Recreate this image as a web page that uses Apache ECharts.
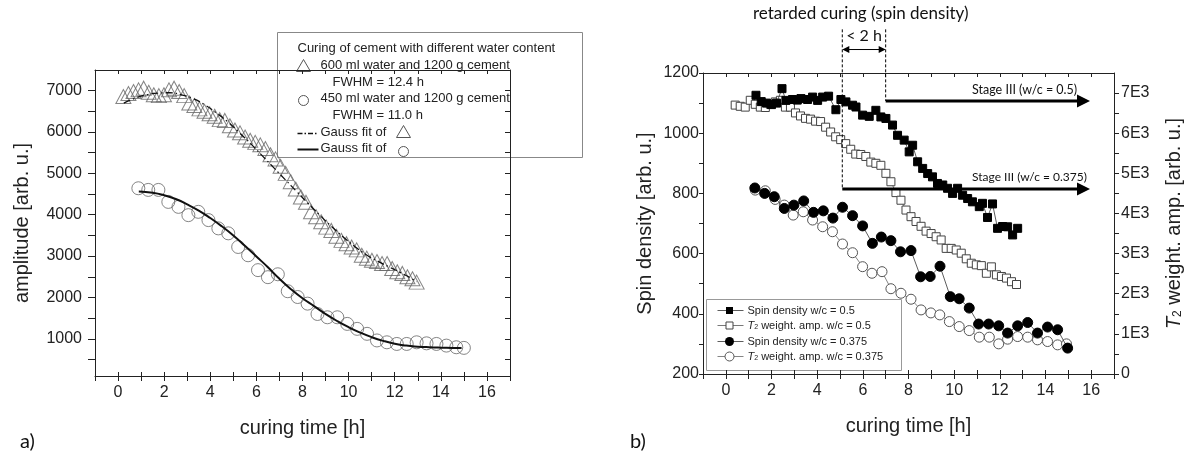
<!DOCTYPE html>
<html><head><meta charset="utf-8">
<script src="https://cdn.jsdelivr.net/npm/echarts@6/dist/echarts.min.js"></script>
<style>html,body{margin:0;padding:0;background:#fff}#c{width:1196px;height:465px}</style>
</head><body><div id="c"></div>
<script>
// ---------- Panel a) ----------
const triT = [0.23,0.45,0.67,0.89,1.11,1.33,1.55,1.77,1.99,2.21,2.43,2.65,2.87,3.09,3.31,3.53,3.75,3.97,4.19,4.41,4.63,4.85,5.07,5.29,5.51,5.73,5.95,6.17,6.39,6.61,6.83,7.05,7.27,7.49,7.71,7.93,8.15,8.37,8.59,8.81,9.03,9.25,9.47,9.69,9.91,10.13,10.35,10.57,10.79,11.01,11.23,11.45,11.67,11.89,12.11,12.33,12.55,12.77,12.95];
const triV = [6860,6930,6980,7020,7060,6960,6900,6880,6900,7020,7060,6980,6880,6700,6640,6560,6500,6440,6380,6300,6280,6150,6050,5980,5880,5800,5750,5690,5600,5450,5350,5170,5000,4800,4620,4430,4300,4070,3950,3830,3700,3620,3480,3380,3300,3220,3150,3020,2950,2900,2870,2820,2820,2700,2620,2580,2500,2450,2370];
const cirT = [0.88,1.31,1.75,2.18,2.62,3.05,3.48,3.92,4.35,4.78,5.21,5.64,6.07,6.5,6.93,7.36,7.79,8.22,8.65,9.08,9.51,9.94,10.37,10.8,11.23,11.66,12.09,12.52,12.95,13.38,13.81,14.24,14.67,15.0];
const cirV = [4640,4600,4600,4310,4190,3990,4070,3870,3670,3550,3220,3020,2660,2490,2560,2150,2010,1850,1600,1520,1520,1360,1240,1120,960,915,875,875,915,890,875,835,795,780];
const fitTriT = [0.25,0.75,1.25,1.75,2.25,2.75,3.25,3.75,4.25,4.75,5.25,5.75,6.25,6.75,7.25,7.75,8.25,8.75,9.25,9.75,10.25,10.75,11.25,11.75,12.25,12.75,12.95];
const fitTriV = [6700,6820,6900,6940,6950,6900,6810,6660,6470,6250,5990,5720,5430,5140,4850,4560,4270,3990,3720,3470,3240,3040,2880,2740,2600,2450,2380];
const fitCirT = [0.9,1.5,2,2.5,3,3.5,4,4.5,5,5.5,6,6.5,7,7.5,8,8.5,9,9.5,10,10.5,11,11.5,12,12.5,13,13.5,14,14.5,14.9];
const fitCirV = [4560,4530,4470,4380,4250,4100,3920,3720,3500,3250,2990,2730,2450,2200,1980,1790,1600,1430,1280,1150,1040,950,880,835,810,795,785,778,775];

// ---------- Panel b) ----------
const sdHiT = [1.32,1.55,1.78,2.0,2.22,2.46,2.63,2.92,3.13,3.29,3.58,3.8,4.02,4.24,4.5,4.82,5.04,5.26,5.55,5.7,5.99,6.28,6.57,6.79,7.01,7.3,7.52,7.81,8.03,8.18,8.4,8.62,8.84,9.05,9.27,9.5,9.71,9.93,10.15,10.37,10.59,10.8,11.1,11.24,11.46,11.68,11.9,12.12,12.34,12.56,12.78];
const sdHiV = [1126,1105,1100,1095,1100,1148,1109,1112,1110,1115,1112,1120,1109,1120,1123,1078,1112,1104,1093,1087,1060,1056,1076,1054,1049,1027,993,977,938,960,905,883,866,855,833,828,817,800,817,794,783,772,756,767,720,765,684,690,689,662,684];
const t2HiT = [0.41,0.63,0.85,1.07,1.29,1.51,1.73,1.95,2.17,2.39,2.61,2.83,3.05,3.27,3.49,3.71,3.93,4.15,4.37,4.59,4.81,5.03,5.25,5.47,5.69,5.91,6.13,6.35,6.57,6.79,7.01,7.23,7.45,7.67,7.89,8.11,8.33,8.55,8.77,8.99,9.21,9.43,9.65,9.87,10.09,10.31,10.53,10.75,10.97,11.19,11.41,11.63,11.85,12.07,12.29,12.51,12.73];
const t2HiV = [6700,6670,6650,6820,6720,6650,6640,6720,6780,6820,6650,6650,6505,6430,6370,6350,6300,6290,6150,6030,5910,5840,5740,5600,5480,5470,5420,5280,5250,5200,5000,4790,4520,4330,4085,3920,3800,3680,3560,3500,3420,3340,3130,3130,3090,3010,2870,2760,2720,2700,2510,2670,2470,2430,2390,2300,2230];
const sdLoT = [1.27,1.7,2.12,2.56,2.98,3.41,3.84,4.27,4.69,5.11,5.55,5.99,6.42,6.81,7.23,7.65,8.11,8.53,8.95,9.38,9.83,10.22,10.66,11.07,11.51,11.95,12.34,12.78,13.22,13.65,14.09,14.53,14.97];
const sdLoV = [818,800,789,750,761,775,737,742,718,754,726,692,634,655,643,606,610,523,524,558,457,450,419,366,366,360,336,360,371,336,356,347,286];
const t2LoT = [1.29,1.73,2.16,2.56,2.95,3.39,3.8,4.24,4.67,5.11,5.55,5.99,6.4,6.84,7.23,7.67,8.11,8.55,8.98,9.37,9.79,10.22,10.66,11.1,11.54,11.95,12.34,12.78,13.22,13.65,14.09,14.53,14.92];
const t2LoV = [4582,4565,4350,4209,3960,4042,3836,3669,3545,3239,3022,2674,2510,2550,2125,2012,1863,1597,1522,1473,1306,1182,1082,918,918,751,868,933,918,851,809,726,751];

// annotation geometry in data units (curing time, spin density)
const retardStart = 5.1, retardEnd = 7.0;
const stageHiLevel = 1107, stageLoLevel = 815, stageArrowEnd = 15.95;
const dashTop = 1345, twoHLevel = 1278;
// [t1, v1, t2, v2, kind]  kind 0 = dashed guide, 1 = double arrow, 2 = thick arrow
const annotations = [
  [retardStart, dashTop, retardStart, stageLoLevel, 0],
  [retardEnd, dashTop, retardEnd, stageHiLevel, 0],
  [retardStart, twoHLevel, retardEnd, twoHLevel, 1],
  [retardEnd, stageHiLevel, stageArrowEnd, stageHiLevel, 2],
  [retardStart, stageLoLevel, stageArrowEnd, stageLoLevel, 2]
];

const yTicksA = [500,1000,1500,2000,2500,3000,3500,4000,4500,5000,5500,6000,6500,7000];
const yLabelsA = [1000,2000,3000,4000,5000,6000,7000];
const yTicksB = [200,300,400,500,600,700,800,900,1000,1100,1200];
const yLabelsB = [200,400,600,800,1000,1200];
const yTicksB2 = [0,500,1000,1500,2000,2500,3000,3500,4000,4500,5000,5500,6000,6500,7000];
const yLabelsB2 = [0,1000,2000,3000,4000,5000,6000,7000];

const zip = (a,b)=>a.map((v,i)=>[v,b[i]]);
const FONT = 'Liberation Sans, Arial, sans-serif';
const CAL = 'Lato, sans-serif';
const AX = '#222';

function xAx(grid, pos, labels, tickOnly) {
  return {
    type:'value', gridIndex:grid, position:pos, min:-1, max:17, interval:1,
    axisLine:{show:!tickOnly, onZero:false, lineStyle:{color:AX, width:1}},
    axisTick:{show:true, inside: !labels, length:labels?5:4, lineStyle:{color:AX}},
    axisLabel:{show:labels, fontSize:16, fontFamily:FONT, color:AX, margin:9,
      formatter:v=> (Math.round(v)%2===0 ? String(v) : '')},
    splitLine:{show:false},
    name: labels ? 'curing time [h]' : '', nameLocation:'middle', nameGap:42,
    nameTextStyle:{fontSize:20, fontFamily:FONT, color:AX}
  };
}
function yAx(grid, pos, min, max, ticks, labels, showLabels, o) {
  o = o || {};
  return {
    type:'value', gridIndex:grid, position:pos, min:min, max:max,
    axisLine:{show:true, onZero:false, lineStyle:{color:AX, width:1}},
    axisTick:{show:true, inside: !showLabels, length:o.tick||5, customValues:ticks, lineStyle:{color:AX}},
    axisLabel:{show:showLabels, customValues:labels, fontSize:16, fontFamily:FONT, color:AX, margin:o.margin||8,
      formatter: o.fmt || (v=>String(v))},
    splitLine:{show:false},
    name:o.name||'', nameLocation:'middle', nameGap:o.gap||0,
    nameTextStyle:{fontSize:20, fontFamily:FONT, color:AX, rich:o.rich||{}}
  };
}

function head(tip, from, L, W) {
  const dx = tip[0]-from[0], dy = tip[1]-from[1];
  const n = Math.sqrt(dx*dx+dy*dy) || 1;
  const ux = dx/n, uy = dy/n;
  const bx = tip[0]-ux*L, by = tip[1]-uy*L;
  return {type:'polygon', shape:{points:[[tip[0],tip[1]],[bx-uy*W,by+ux*W],[bx+uy*W,by-ux*W]]}, style:{fill:'#000'}};
}
function renderAnno(params, api) {
  const p1 = api.coord([api.value(0), api.value(1)]);
  const p2 = api.coord([api.value(2), api.value(3)]);
  const kind = api.value(4);
  const ch = [];
  if (kind === 0) {
    ch.push({type:'line', shape:{x1:p1[0],y1:p1[1],x2:p2[0],y2:p2[1]}, style:{stroke:'#000', lineWidth:1, lineDash:[3,2]}});
  } else if (kind === 1) {
    ch.push({type:'line', shape:{x1:p1[0]+6,y1:p1[1],x2:p2[0]-6,y2:p2[1]}, style:{stroke:'#000', lineWidth:1}});
    ch.push(head(p1, p2, 7, 3.5));
    ch.push(head(p2, p1, 7, 3.5));
  } else {
    ch.push({type:'line', shape:{x1:p1[0],y1:p1[1],x2:p2[0]-10,y2:p2[1]}, style:{stroke:'#000', lineWidth:3}});
    ch.push(head(p2, p1, 13, 6.5));
  }
  return {type:'group', children:ch};
}

const chart = echarts.init(document.getElementById('c'), null, {renderer:'canvas'});
const option = {
  animation:false,
  backgroundColor:'#fff',
  grid:[
    {left:95, top:70, width:415, height:306},
    {left:703, top:73, width:411, height:301}
  ],
  xAxis:[ xAx(0,'bottom',true), xAx(0,'top',false), xAx(1,'bottom',true), xAx(1,'top',false),
          xAx(0,'bottom',false,true), xAx(1,'bottom',false,true) ],
  yAxis:[
    yAx(0,'left',100,7500,yTicksA,yLabelsA,true,{name:'amplitude [arb. u.]', gap:63, margin:13, tick:7}),
    yAx(0,'right',100,7500,yTicksA,yLabelsA,false),
    yAx(1,'left',200,1200,yTicksB,yLabelsB,true,{name:'Spin density [arb. u.]', gap:48, margin:4, tick:4}),
    yAx(1,'right',0,7500,yTicksB2,yLabelsB2,true,{fmt:v=>v===0?'0':(v/1000)+'E3',
        name:'{i|T}{s|2} weight. amp. [arb. u.]', gap:50, margin:7,
        rich:{i:{fontStyle:'italic',fontSize:20,fontFamily:FONT,color:AX},
              s:{fontSize:12,fontFamily:FONT,color:AX,verticalAlign:'bottom'}}})
  ],
  series:[
    {type:'line', xAxisIndex:0, yAxisIndex:0, data:zip(fitTriT,fitTriV), smooth:true, showSymbol:false,
     lineStyle:{color:'#111', width:1.3, type:[7,3,1.5,3]}, z:3},
    {type:'line', xAxisIndex:0, yAxisIndex:0, data:zip(fitCirT,fitCirV), smooth:true, showSymbol:false,
     lineStyle:{color:'#111', width:2}, z:3},
    {type:'scatter', xAxisIndex:0, yAxisIndex:0, data:zip(triT,triV), symbol:'triangle', symbolSize:[15,14],
     itemStyle:{color:'rgba(255,255,255,0)', borderColor:'#666', borderWidth:1}, z:2},
    {type:'scatter', xAxisIndex:0, yAxisIndex:0, data:zip(cirT,cirV), symbol:'circle', symbolSize:13,
     itemStyle:{color:'rgba(255,255,255,0)', borderColor:'#666', borderWidth:1}, z:2},

    {type:'line', xAxisIndex:2, yAxisIndex:3, data:zip(t2HiT,t2HiV), symbol:'rect', symbolSize:8,
     lineStyle:{color:'#555', width:0.8}, itemStyle:{color:'#fff', borderColor:'#444', borderWidth:1}, z:2},
    {type:'line', xAxisIndex:2, yAxisIndex:3, data:zip(t2LoT,t2LoV), symbol:'circle', symbolSize:10,
     lineStyle:{color:'#666', width:0.8}, itemStyle:{color:'#fff', borderColor:'#555', borderWidth:1}, z:2},
    {type:'line', xAxisIndex:2, yAxisIndex:2, data:zip(sdHiT,sdHiV), symbol:'rect', symbolSize:8,
     lineStyle:{color:'#333', width:0.8}, itemStyle:{color:'#000', borderColor:'#000'}, z:3},
    {type:'line', xAxisIndex:2, yAxisIndex:2, data:zip(sdLoT,sdLoV), symbol:'circle', symbolSize:10,
     lineStyle:{color:'#333', width:0.8}, itemStyle:{color:'#000', borderColor:'#000'}, z:3},

    {type:'custom', coordinateSystem:'cartesian2d', xAxisIndex:2, yAxisIndex:2, clip:false, silent:true, z:5,
     encode:{x:[0,2], y:[1,3]}, data:annotations, renderItem:renderAnno}
  ],
  graphic:[
    // legend a
    {type:'group', left:277, top:32, children:[
      {type:'rect', shape:{x:0,y:0,width:305,height:125}, style:{fill:'#fff', stroke:'#888', lineWidth:1}},
      {type:'text', x:20, y:16, style:{text:'Curing of cement with different water content', font:'13px '+FONT, fill:'#222', verticalAlign:'middle'}},
      {type:'polygon', shape:{points:[[26,27],[33,39],[19,39]]}, style:{fill:'none', stroke:'#555', lineWidth:1}},
      {type:'text', x:43, y:33, style:{text:'600 ml water and 1200 g cement', font:'13px '+FONT, fill:'#222', verticalAlign:'middle'}},
      {type:'text', x:55, y:50, style:{text:'FWHM = 12.4 h', font:'13px '+FONT, fill:'#222', verticalAlign:'middle'}},
      {type:'circle', shape:{cx:26, cy:68, r:5}, style:{fill:'none', stroke:'#555', lineWidth:1}},
      {type:'text', x:43, y:66, style:{text:'450 ml water and 1200 g cement', font:'13px '+FONT, fill:'#222', verticalAlign:'middle'}},
      {type:'text', x:55, y:83, style:{text:'FWHM = 11.0 h', font:'13px '+FONT, fill:'#222', verticalAlign:'middle'}},
      {type:'line', shape:{x1:20,y1:101,x2:40,y2:101}, style:{stroke:'#111', lineWidth:1.3, lineDash:[5,2,1.5,2]}},
      {type:'text', x:43, y:100, style:{text:'Gauss fit of', font:'13px '+FONT, fill:'#222', verticalAlign:'middle'}},
      {type:'polygon', shape:{points:[[126,93],[133,105],[119,105]]}, style:{fill:'none', stroke:'#555', lineWidth:1}},
      {type:'line', shape:{x1:20,y1:117,x2:41,y2:117}, style:{stroke:'#111', lineWidth:2}},
      {type:'text', x:43, y:116, style:{text:'Gauss fit of', font:'13px '+FONT, fill:'#222', verticalAlign:'middle'}},
      {type:'circle', shape:{cx:126, cy:119, r:5}, style:{fill:'none', stroke:'#555', lineWidth:1}}
    ]},
    // legend b
    {type:'group', left:706, top:299, children:[
      {type:'rect', shape:{x:0,y:0,width:195,height:71}, style:{fill:'#fff', stroke:'#999', lineWidth:1}},
      {type:'line', shape:{x1:11,y1:11,x2:37,y2:11}, style:{stroke:'#333', lineWidth:0.8}},
      {type:'rect', shape:{x:19.5,y:7.5,width:7,height:7}, style:{fill:'#000'}},
      {type:'text', x:41, y:11, style:{text:'Spin density w/c = 0.5', font:'11px '+FONT, fill:'#222', verticalAlign:'middle'}},
      {type:'line', shape:{x1:11,y1:26,x2:37,y2:26}, style:{stroke:'#555', lineWidth:0.8}},
      {type:'rect', shape:{x:19.5,y:22.5,width:7,height:7}, style:{fill:'#fff', stroke:'#444', lineWidth:1}},
      {type:'text', x:41, y:26, style:{text:'{i|T}{s|2} weight. amp. w/c = 0.5', font:'11px '+FONT, fill:'#222', verticalAlign:'middle',
         rich:{i:{fontStyle:'italic', fontSize:11, fontFamily:FONT, fill:'#222'}, s:{fontSize:7, fontFamily:FONT, fill:'#222', verticalAlign:'bottom'}}}},
      {type:'line', shape:{x1:11,y1:42,x2:37,y2:42}, style:{stroke:'#333', lineWidth:0.8}},
      {type:'circle', shape:{cx:23, cy:42, r:4.5}, style:{fill:'#000'}},
      {type:'text', x:41, y:42, style:{text:'Spin density w/c = 0.375', font:'11px '+FONT, fill:'#222', verticalAlign:'middle'}},
      {type:'line', shape:{x1:11,y1:57,x2:37,y2:57}, style:{stroke:'#666', lineWidth:0.8}},
      {type:'circle', shape:{cx:23, cy:57, r:4.5}, style:{fill:'#fff', stroke:'#555', lineWidth:1}},
      {type:'text', x:41, y:57, style:{text:'{i|T}{s|2} weight. amp. w/c = 0.375', font:'11px '+FONT, fill:'#222', verticalAlign:'middle',
         rich:{i:{fontStyle:'italic', fontSize:11, fontFamily:FONT, fill:'#222'}, s:{fontSize:7, fontFamily:FONT, fill:'#222', verticalAlign:'bottom'}}}}
    ]},
    // annotations
    {type:'text', x:753, y:14, style:{text:'retarded curing (spin density)', font:'17px '+CAL, fill:'#111', verticalAlign:'middle'}},
    {type:'text', x:864, y:36, style:{text:'< 2 h', font:'16px '+CAL, fill:'#111', align:'center', verticalAlign:'middle'}},
    {type:'text', x:972, y:90, style:{text:'Stage III (w/c = 0.5)', font:'12.5px '+CAL, fill:'#111', verticalAlign:'middle'}},
    {type:'text', x:972, y:177, style:{text:'Stage III (w/c = 0.375)', font:'12px '+CAL, fill:'#111', verticalAlign:'middle'}},
    {type:'text', x:20, y:442, style:{text:'a)', font:'20px '+CAL, fill:'#111', verticalAlign:'middle'}},
    {type:'text', x:630, y:442, style:{text:'b)', font:'20px '+CAL, fill:'#111', verticalAlign:'middle'}}
  ]
};
chart.setOption(option);
</script>
</body></html>
